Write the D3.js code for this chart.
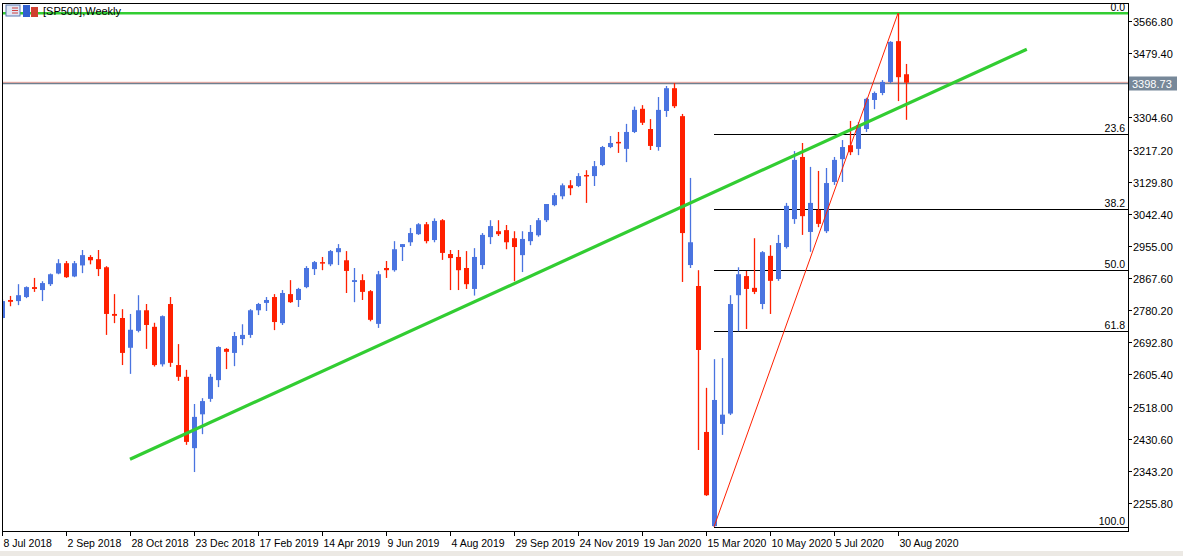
<!DOCTYPE html>
<html><head><meta charset="utf-8">
<script src="https://cdn.jsdelivr.net/npm/d3@7"></script>
<style>body{margin:0;background:#fff}svg{display:block;font-family:"Liberation Sans",Arial,sans-serif}</style>
</head><body><svg id="c" width="1183" height="556"></svg>
<script>
// OHLC per weekly bar (bar 0 = week of 8 Jul 2018)
const opens=[2759,2808,2805,2816,2843,2835,2851,2880,2908,2872,2902,2925,2919,2897,2770,2759,2678,2724,2780,2735,2633,2797,2631,2599,2405,2497,2539,2590,2675,2664,2702,2713,2780,2800,2816,2745,2824,2808,2843,2892,2911,2905,2938,2916,2857,2862,2832,2743,2895,2889,2952,2965,2987,3014,2971,3025,2933,2925,2895,2838,2903,2979,2995,2998,2976,2930,2968,2984,3025,3066,3090,3120,3118,3148,3145,3175,3224,3238,3219,3265,3328,3273,3224,3322,3384,3308,2903,2846,2449,2193,2471,2499,2821,2873,2841,2797,2928,2865,2952,3028,3197,2993,3053,2995,3129,3191,3229,3219,3273,3352,3371,3401,3512,3422];
const highs=[2810,2819,2851,2845,2868,2859,2880,2919,2914,2914,2944,2930,2944,2900,2824,2783,2770,2821,2797,2746,2766,2816,2688,2618,2525,2541,2607,2682,2677,2721,2742,2783,2800,2816,2824,2835,2862,2841,2900,2914,2925,2944,2960,2941,2895,2878,2835,2887,2914,2968,2960,3004,3017,3020,3030,3028,2944,2944,2941,2949,2990,3025,3025,3012,2995,2995,3012,3031,3069,3099,3125,3134,3153,3161,3186,3227,3254,3265,3287,3334,3338,3300,3360,3390,3398,3314,3140,2889,2569,2647,2650,2821,2897,2887,2976,2941,2957,2985,3072,3213,3235,3170,3159,3167,3197,3243,3295,3292,3358,3375,3406,3512,3588,3450];
const lows=[2755,2791,2794,2813,2830,2805,2846,2878,2868,2870,2881,2905,2873,2713,2745,2631,2607,2720,2675,2627,2627,2626,2588,2414,2340,2443,2531,2571,2620,2628,2685,2705,2767,2778,2726,2740,2800,2789,2840,2876,2889,2900,2903,2827,2802,2808,2750,2732,2868,2885,2914,2955,2985,2962,2965,2917,2835,2835,2838,2820,2892,2960,2982,2946,2859,2884,2957,2980,3020,3063,3082,3093,3115,3072,3118,3172,3221,3208,3183,3262,3284,3216,3214,3306,3330,2857,2895,2400,2275,2191,2441,2495,2723,2729,2824,2783,2770,2860,2948,3015,2985,2939,3006,2990,3121,3129,3202,3202,3265,3327,3365,3398,3349,3298];
const closes=[2805,2803,2821,2843,2838,2854,2878,2908,2870,2908,2930,2916,2892,2770,2765,2664,2727,2780,2740,2631,2764,2637,2599,2422,2490,2533,2599,2680,2667,2710,2713,2780,2797,2808,2748,2827,2802,2838,2895,2911,2908,2941,2949,2887,2862,2830,2754,2878,2889,2946,2960,2990,3014,2968,3023,2936,2922,2889,2851,2925,2985,3009,2987,2965,2952,2974,2993,3025,3069,3093,3120,3112,3145,3145,3172,3224,3235,3235,3265,3325,3290,3227,3325,3384,3335,2990,2965,2672,2277,2536,2496,2797,2878,2838,2830,2938,2860,2963,3064,3189,3036,3072,3015,3126,3189,3224,3210,3284,3355,3371,3401,3510,3414,3399];
const dateLabels=["8 Jul 2018","2 Sep 2018","28 Oct 2018","23 Dec 2018","17 Feb 2019","14 Apr 2019","9 Jun 2019","4 Aug 2019","29 Sep 2019","24 Nov 2019","19 Jan 2020","15 Mar 2020","10 May 2020","5 Jul 2020","30 Aug 2020"];
const priceTicks=[2255.80,2343.20,2430.60,2518.00,2605.40,2692.80,2780.20,2867.60,2955.00,3042.40,3129.80,3217.20,3304.60,3391.90,3479.40,3566.80];
const fibLevels=[0,23.6,38.2,50,61.8,100];
const fibBars=[89,112]; const fibPrices=[2191,3588];
const trendBars=[16,128.1]; const trendPrices=[2375,3490];
const currentPrice=3398.73;

const svg=d3.select("#c");
const L=2,R=1128,T=3,B=531;
const x=d3.scaleLinear().domain([0,1]).range([2,10]);
const y=d3.scaleLinear().domain([2255.8,3566.8]).range([503,21]);
const bull="#4a74e0",bear="#ff2000",green="#32cd32";

svg.append("defs").append("clipPath").attr("id","pc").append("rect").attr("x",L+1).attr("y",T).attr("width",R-L-1).attr("height",B-T);
const g=svg.append("g").attr("clip-path","url(#pc)");

const fHi=fibPrices[1],fLo=fibPrices[0];
fibLevels.forEach(l=>{
  const p=fHi-(fHi-fLo)*l/100;
  const yy=Math.round(y(p))+0.5;
  if(l!==0) g.append("line").attr("x1",x(fibBars[0])).attr("x2",R).attr("y1",yy).attr("y2",yy).attr("stroke","#000").attr("stroke-width",1);
  svg.append("text").attr("x",R-3).attr("y",yy-3).attr("text-anchor","end").attr("font-size",10.5).attr("fill","#000").text(l.toFixed(1));
});
g.append("line").attr("x1",L).attr("x2",R).attr("y1",y(fHi)).attr("y2",y(fHi)).attr("stroke",green).attr("stroke-width",2.5);
const py=Math.round(y(currentPrice))+0.5;
g.append("line").attr("x1",L).attr("x2",R).attr("y1",py).attr("y2",py).attr("stroke","#6f7f90").attr("stroke-width",1.4);
g.append("line").attr("x1",L).attr("x2",R).attr("y1",py-1.2).attr("y2",py-1.2).attr("stroke","#e05040").attr("stroke-width",0.5);

const idx=d3.range(opens.length);
idx.forEach(i=>{
  const o=opens[i],c=closes[i],up=c>=o,col=up?bull:bear,cx=Math.round(x(i))+0.5;
  g.append("line").attr("x1",cx).attr("x2",cx).attr("y1",y(highs[i])).attr("y2",y(lows[i])).attr("stroke",col).attr("stroke-width",1.3);
  const y1=y(Math.max(o,c)),y2=y(Math.min(o,c));
  g.append("rect").attr("x",cx-2.5).attr("y",y1).attr("width",5).attr("height",Math.max(1.5,y2-y1)).attr("fill",col);
});
g.append("line").attr("x1",x(trendBars[0])).attr("y1",y(trendPrices[0])).attr("x2",x(trendBars[1])).attr("y2",y(trendPrices[1])).attr("stroke",green).attr("stroke-width",3.2);
g.append("line").attr("x1",x(fibBars[0])).attr("y1",y(fibPrices[0])).attr("x2",x(fibBars[1])).attr("y2",y(fibPrices[1])).attr("stroke","#ff2000").attr("stroke-width",1);

svg.append("rect").attr("x",L+0.5).attr("y",T+0.5).attr("width",R-L).attr("height",B-T).attr("fill","none").attr("stroke","#000");
priceTicks.forEach(p=>{
  const yy=Math.round(y(p))+0.5;
  svg.append("line").attr("x1",R).attr("x2",R+4).attr("y1",yy).attr("y2",yy).attr("stroke","#000");
  svg.append("text").attr("x",R+5).attr("y",yy+4).attr("font-size",11).attr("fill","#000").text(p.toFixed(2));
});
svg.append("rect").attr("x",R+1).attr("y",py-7).attr("width",48).attr("height",14).attr("fill","#778899");
svg.append("text").attr("x",R+4).attr("y",py+4).attr("font-size",11).attr("fill","#fff").text(currentPrice.toFixed(2));
dateLabels.forEach((d,k)=>{
  const xx=Math.round(x(k*8))+0.5;
  svg.append("line").attr("x1",xx).attr("x2",xx).attr("y1",B).attr("y2",B+5).attr("stroke","#000");
  svg.append("text").attr("x",xx+1).attr("y",B+16).attr("font-size",10.5).attr("fill","#000").text(d);
});
svg.append("rect").attr("x",0).attr("y",551).attr("width",1183).attr("height",5).attr("fill","#ece9e4");
const ic=svg.append("g");
ic.append("rect").attr("x",6).attr("y",5).attr("width",14).attr("height",11).attr("fill","#dfe6f5").attr("stroke","#5a78b0");
[8,10.5,13].forEach(v=>ic.append("line").attr("x1",12).attr("x2",18).attr("y1",v).attr("y2",v).attr("stroke","#d04040"));
ic.append("rect").attr("x",23).attr("y",5).attr("width",7).attr("height",12).attr("fill","#3060d0");
ic.append("rect").attr("x",31).attr("y",7).attr("width",7).attr("height",10).attr("fill","#d04030");
svg.append("text").attr("x",43).attr("y",15).attr("font-size",11).attr("fill","#000").text("[SP500],Weekly");
</script></body></html>
